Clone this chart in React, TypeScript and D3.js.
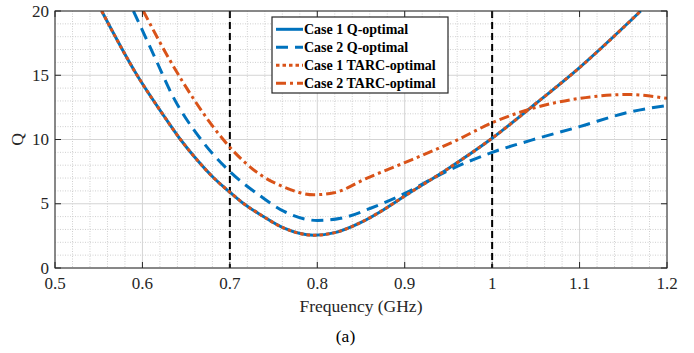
import React from "react";
import * as d3 from "d3";

// Case 1 (Q-optimal and TARC-optimal overlap)
const freqCase1 = [0.5534, 0.5939, 0.6244, 0.6435, 0.6626, 0.6817, 0.7, 0.716, 0.735, 0.762, 0.796, 0.82, 0.85, 0.875, 0.9, 0.95, 1.0, 1.05, 1.1, 1.17];
const qCase1Q = [20, 15, 11.85, 10, 8.4, 7.0, 5.9, 5.0, 4.15, 3.1, 2.55, 2.75, 3.55, 4.5, 5.6, 7.75, 10.1, 12.8, 15.6, 20];
const qCase1TARC = [20, 15, 11.85, 10, 8.4, 7.0, 5.9, 5.0, 4.15, 3.1, 2.55, 2.75, 3.55, 4.5, 5.6, 7.75, 10.1, 12.8, 15.6, 20];
// Case 2 Q-optimal
const freqCase2Q = [0.5897, 0.6168, 0.633, 0.667, 0.7, 0.735, 0.762, 0.8, 0.827, 0.861, 0.9, 0.93, 0.96, 1.0, 1.045, 1.1, 1.155, 1.2];
const qCase2Q = [20, 16, 13.6, 10, 7.5, 5.6, 4.4, 3.7, 3.87, 4.65, 5.8, 6.9, 7.9, 9.0, 9.95, 11.0, 12.1, 12.65];
// Case 2 TARC-optimal
const freqCase2T = [0.601, 0.632, 0.6924, 0.7, 0.735, 0.762, 0.796, 0.819, 0.857, 0.9, 0.958, 1.0, 1.045, 1.1, 1.155, 1.2];
const qCase2T = [20, 16.1, 10, 9.4, 7.25, 6.3, 5.7, 5.85, 7.0, 8.2, 9.9, 11.3, 12.4, 13.2, 13.5, 13.2];

const xTicks = [0.5, 0.6, 0.7, 0.8, 0.9, 1, 1.1, 1.2];
const yTicks = [0, 5, 10, 15, 20];
const markerFreqs = [0.7, 1.0];
const legendLabels = ["Case 1 Q-optimal", "Case 2 Q-optimal", "Case 1 TARC-optimal", "Case 2 TARC-optimal"];

const BLUE = "#0072BD";
const ORANGE = "#D95319";
const AX = "#262626";
const FONT = '"Liberation Serif", "Times New Roman", Times, "DejaVu Serif", serif';

export default function App() {
  const W = 694, H = 353;
  const L = 55, R = 667, T = 11, B = 268;
  const x = d3.scaleLinear().domain([0.5, 1.2]).range([L, R]);
  const y = d3.scaleLinear().domain([0, 20]).range([B, T]);
  const line = d3.line<[number, number]>().x(d => x(d[0])).y(d => y(d[1])).curve(d3.curveMonotoneX);
  const mk = (f: number[], q: number[]) => line(f.map((v, i) => [v, q[i]] as [number, number])) || "";

  const minorX = d3.range(0.5, 1.2001, 0.02).filter(v => Math.abs(Math.round(v * 10) - v * 10) > 1e-6);
  const minorY = d3.range(0, 20.001, 1).filter(v => v % 5 !== 0);

  const series = [
    { d: mk(freqCase1, qCase1Q), color: BLUE, dash: undefined as string | undefined },
    { d: mk(freqCase2Q, qCase2Q), color: BLUE, dash: "12,7" },
    { d: mk(freqCase1, qCase1TARC), color: ORANGE, dash: "3.5,3" },
    { d: mk(freqCase2T, qCase2T), color: ORANGE, dash: "10,4,3,4" },
  ];
  const ts = { fontFamily: FONT };
  const legX = 272, legY = 17, legW = 176, legH = 76;

  return (
    <svg width={W} height={H} style={{ position: "absolute", left: 0, top: 0, background: "#fff" }}>
      <defs>
        <clipPath id="plotClip"><rect x={L} y={T} width={R - L} height={B - T} /></clipPath>
      </defs>
      <rect x={L} y={T} width={R - L} height={B - T} fill="#fff" />
      {minorX.map(v => (
        <line key={"mx" + v} x1={x(v)} x2={x(v)} y1={T} y2={B} stroke="#cfcfcf" strokeWidth={1} strokeDasharray="1,1.5" />
      ))}
      {minorY.map(v => (
        <line key={"my" + v} x1={L} x2={R} y1={y(v)} y2={y(v)} stroke="#cfcfcf" strokeWidth={1} strokeDasharray="1,1.5" />
      ))}
      {xTicks.map(v => (
        <line key={"gx" + v} x1={x(v)} x2={x(v)} y1={T} y2={B} stroke="#d4d4d4" strokeWidth={1} />
      ))}
      {yTicks.map(v => (
        <line key={"gy" + v} x1={L} x2={R} y1={y(v)} y2={y(v)} stroke="#d4d4d4" strokeWidth={1} />
      ))}
      {markerFreqs.map(v => (
        <line key={"m" + v} x1={x(v)} x2={x(v)} y1={T} y2={B} stroke="#000" strokeWidth={2} strokeDasharray="7,4" />
      ))}
      <g clipPath="url(#plotClip)">
        {series.map((s, i) => (
          <path key={i} d={s.d} fill="none" stroke={s.color} strokeWidth={3} strokeDasharray={s.dash} />
        ))}
      </g>
      <rect x={L} y={T} width={R - L} height={B - T} fill="none" stroke={AX} strokeWidth={1} />
      {xTicks.map(v => (
        <g key={"tx" + v}>
          <line x1={x(v)} x2={x(v)} y1={B} y2={B - 6} stroke={AX} />
          <line x1={x(v)} x2={x(v)} y1={T} y2={T + 6} stroke={AX} />
          <text x={x(v)} y={289} textAnchor="middle" fontSize={17} fill={AX} style={ts}>{String(v)}</text>
        </g>
      ))}
      {yTicks.map(v => (
        <g key={"ty" + v}>
          <line x1={L} x2={L + 6} y1={y(v)} y2={y(v)} stroke={AX} />
          <line x1={R} x2={R - 6} y1={y(v)} y2={y(v)} stroke={AX} />
          <text x={49} y={y(v) + 5.5} textAnchor="end" fontSize={17} fill={AX} style={ts}>{String(v)}</text>
        </g>
      ))}
      <text x={(L + R) / 2} y={311.5} textAnchor="middle" fontSize={17.5} fill={AX} style={ts}>Frequency (GHz)</text>
      <text x={23} y={(T + B) / 2} textAnchor="middle" fontSize={17.5} fill={AX} style={ts} transform={`rotate(-90, 23, ${(T + B) / 2})`}>Q</text>
      <text x={345.5} y={341.5} textAnchor="middle" fontSize={17.5} fill="#000" style={ts}>(a)</text>
      <rect x={legX} y={legY} width={legW} height={legH} fill="#fff" stroke={AX} strokeWidth={1.2} />
      {legendLabels.map((lab, i) => {
        const cy = 29.3 + i * 18;
        const s = series[i];
        return (
          <g key={lab}>
            <line x1={276} x2={303} y1={cy} y2={cy} stroke={s.color} strokeWidth={3} strokeDasharray={s.dash} />
            <text x={304} y={cy + 5} fontSize={14} fontWeight="bold" fill="#000" style={ts}>{lab}</text>
          </g>
        );
      })}
    </svg>
  );
}
